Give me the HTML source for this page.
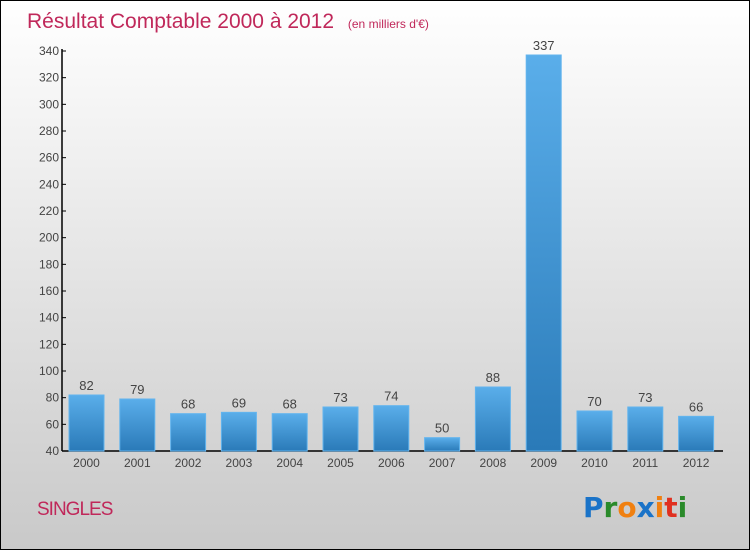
<!DOCTYPE html>
<html><head><meta charset="utf-8"><style>
body{margin:0;width:750px;height:550px;overflow:hidden;font-family:"Liberation Sans",sans-serif}
#wrap{position:absolute;left:0;top:0;width:748px;height:548px;border:1px solid #000;background:linear-gradient(#fff,#c9c9c9)}
</style></head><body>
<div id="wrap">
<svg id="chart" width="748" height="548" style="position:absolute;left:0;top:0">
<defs><linearGradient id="bg" x1="0" y1="0" x2="0" y2="1"><stop offset="0" stop-color="#5aaeea"/><stop offset="1" stop-color="#2a7ab8"/></linearGradient></defs>
<text x="26" y="27" font-size="21" fill="#c0285a" font-family="Liberation Sans">Résultat Comptable 2000 à 2012 <tspan font-size="12" dx="8">(en milliers d'€)</tspan></text>
<g id="axes"></g><g id="bars"></g>
<text x="36" y="514" font-size="19" fill="#c0285a" font-family="Liberation Sans" letter-spacing="-1">SINGLES</text>
<text x="582" y="516" font-size="28" font-family="DejaVu Sans" font-weight="bold"><tspan fill="#1a73c8">P</tspan><tspan fill="#2a8a2a">r</tspan><tspan fill="#f08010">o</tspan><tspan fill="#1a73c8">x</tspan><tspan fill="#f08010">i</tspan><tspan fill="#e03020">t</tspan><tspan fill="#2a8a2a">i</tspan></text>
</svg></div>
<script>
const years=["2000","2001","2002","2003","2004","2005","2006","2007","2008","2009","2010","2011","2012"];
const values=[82,79,68,69,68,73,74,50,88,337,70,73,66];
const yTicks=[40,60,80,100,120,140,160,180,200,220,240,260,280,300,320,340];
const NS="http://www.w3.org/2000/svg";
const y=v=>450-(v-40)*400/300;
const x=i=>85.5+i*50.8;
const ax=document.getElementById('axes'),bg=document.getElementById('bars');
function mk(t,a,p){const e=document.createElementNS(NS,t);for(const k in a)e.setAttribute(k,a[k]);p.appendChild(e);return e;}
let l=mk('line',{x1:61,y1:48,x2:61,y2:450,stroke:'#000','stroke-width':1.5},ax);


l=mk('line',{x1:61,y1:450,x2:722,y2:450,stroke:'#000','stroke-width':1.5},ax);


yTicks.forEach(v=>{
 mk('line',{x1:61,y1:y(v),x2:65,y2:y(v),stroke:'#000'},ax);
 const t=mk('text',{x:58,y:y(v)+4,'text-anchor':'end','font-size':12,fill:'#444'},ax);
 t.textContent=v;
 
 
});
values.forEach((v,i)=>{
 const r=mk('rect',{x:x(i)-17.5,y:y(v),width:35,height:450-y(v),fill:'url(#bg)',stroke:'#62b4ee','stroke-width':1},bg);
 
 
 const t=mk('text',{x:x(i),y:y(v)-5,'text-anchor':'middle','font-size':13,fill:'#444'},bg);
 t.textContent=v;
 
 
 const xl=mk('text',{x:x(i),y:466,'text-anchor':'middle','font-size':12,fill:'#444'},bg);
 xl.textContent=years[i];
 
 
});
</script>
</body></html>
